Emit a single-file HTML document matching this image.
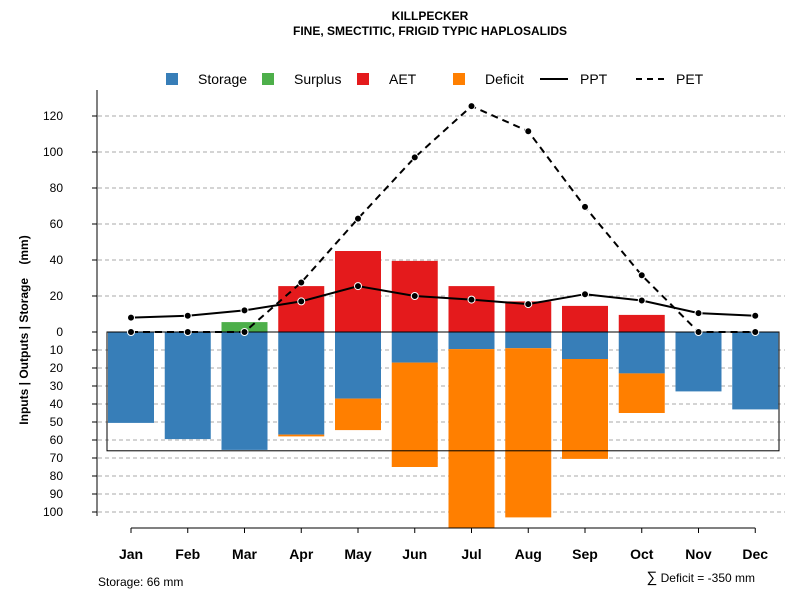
<!DOCTYPE html>
<html><head><meta charset="utf-8"><style>
body{margin:0;background:#fff}
svg text{font-family:"Liberation Sans",Arial,sans-serif}
</style></head><body>
<svg id="chart" width="800" height="600" xmlns="http://www.w3.org/2000/svg">
<text x="430" y="20" text-anchor="middle" font-size="12" font-weight="bold">KILLPECKER</text>
<text x="430" y="35" text-anchor="middle" font-size="12" font-weight="bold">FINE, SMECTITIC, FRIGID TYPIC HAPLOSALIDS</text>
<g id="grid"></g>
<g id="bars"></g>
<g id="lines"></g>
<g id="axes"></g>
<g>
<rect x="166" y="73" width="12" height="12" fill="#377eb8"/>
<text x="198" y="84" font-size="14">Storage</text>
<rect x="262" y="73" width="12" height="12" fill="#4daf4a"/>
<text x="294" y="84" font-size="14">Surplus</text>
<rect x="357" y="73" width="12" height="12" fill="#e41a1c"/>
<text x="389" y="84" font-size="14">AET</text>
<rect x="453" y="73" width="12" height="12" fill="#ff7f00"/>
<text x="485" y="84" font-size="14">Deficit</text>
<line x1="540" y1="79" x2="568" y2="79" stroke="#000" stroke-width="2"/>
<text x="580" y="84" font-size="14">PPT</text>
<line x1="636" y1="79" x2="664" y2="79" stroke="#000" stroke-width="2" stroke-dasharray="6,5"/>
<text x="676" y="84" font-size="14">PET</text>
</g>
<text transform="translate(28,330) rotate(-90)" text-anchor="middle" font-size="12" font-weight="bold">Inputs | Outputs | Storage&#160;&#160;&#160;&#160;(mm)</text>
<text x="98" y="586" font-size="12">Storage: 66 mm</text>
<text x="755" y="582" text-anchor="end" font-size="12"><tspan font-size="15">∑</tspan> Deficit = -350 mm</text>
</svg>
<script>
const months=["Jan","Feb","Mar","Apr","May","Jun","Jul","Aug","Sep","Oct","Nov","Dec"];
const storage=[50.5,59.5,65.5,57,37,17,9.5,9,15,23,33,43];
const deficit=[0,0,0,1,17.5,58,99.5,94,55.5,22,0,0];
const surplus=[0,0,5.5,0,0,0,0,0,0,0,0,0];
const aet=[0,0,0,25.5,45,39.5,25.5,17,14.5,9.5,0,0];
const ppt=[8,9,12,17,25.5,20,18,15.5,21,17.5,10.5,9];
const pet=[0,0,0,27.5,63,97,125.5,111.5,69.5,31.5,0,0];
const upTicks=[0,20,40,60,80,100,120];
const downTicks=[10,20,30,40,50,60,70,80,90,100];
const capacity=66;
const NS="http://www.w3.org/2000/svg";
const y0=332,k=1.8;
const yUp=v=>y0-v*k, yDn=v=>y0+v*k;
const xc=i=>131+i*56.75, bw=46;
function mk(t,a,p){const e=document.createElementNS(NS,t);for(const n in a)e.setAttribute(n,a[n]);p.appendChild(e);return e;}
const grid=document.getElementById('grid'),bars=document.getElementById('bars'),lines=document.getElementById('lines'),axes=document.getElementById('axes');
upTicks.forEach(t=>{
 if(t>0){const g=mk('line',{x1:98,x2:785,y1:yUp(t),y2:yUp(t),stroke:'#aaa','stroke-dasharray':'4,3'},grid);
 
 }
 const tk=mk('line',{x1:92,x2:97,y1:yUp(t),y2:yUp(t),stroke:'#000'},axes);
 
 
 const tx=mk('text',{x:63,y:yUp(t)+4,'font-size':12,'text-anchor':'end'},axes);tx.textContent=t;
 
 
});
downTicks.forEach(t=>{
 const g=mk('line',{x1:98,x2:785,y1:yDn(t),y2:yDn(t),stroke:'#aaa','stroke-dasharray':'4,3'},grid);
 
 
 const tk=mk('line',{x1:92,x2:97,y1:yDn(t),y2:yDn(t),stroke:'#000'},axes);
 
 
 const tx=mk('text',{x:63,y:yDn(t)+4,'font-size':12,'text-anchor':'end'},axes);tx.textContent=t;
 
 
});
months.forEach((m,i)=>{
 const x=xc(i)-bw/2;
 const r1=mk('rect',{x:x,y:y0,width:bw,height:storage[i]*k,fill:'#377eb8'},bars);
 
 
 if(deficit[i]>0){const r=mk('rect',{x:x,y:yDn(storage[i]),width:bw,height:deficit[i]*k,fill:'#ff7f00'},bars);
 
 }
 if(aet[i]>0){const r=mk('rect',{x:x,y:yUp(aet[i]),width:bw,height:aet[i]*k,fill:'#e41a1c'},bars);
 
 }
 if(surplus[i]>0){const r=mk('rect',{x:x,y:yUp(surplus[i]+aet[i]),width:bw,height:surplus[i]*k,fill:'#4daf4a'},bars);
 
 }
 const tk=mk('line',{x1:xc(i),x2:xc(i),y1:528,y2:533,stroke:'#000'},axes);
 
 
 const tx=mk('text',{x:xc(i),y:559,'font-size':14,'font-weight':'bold','text-anchor':'middle'},axes);tx.textContent=m;
 
 
});
const cap=mk('rect',{x:107,y:y0,width:672,height:capacity*k,fill:'none',stroke:'#000'},bars);


const zl=mk('line',{x1:107,x2:779,y1:y0,y2:y0,stroke:'#000'},bars);


const ya=mk('line',{x1:97,x2:97,y1:yUp(120)-26,y2:yDn(100)+4,stroke:'#000'},axes);


const xa=mk('line',{x1:xc(0),x2:xc(11),y1:528,y2:528,stroke:'#000'},axes);


function series(vals,name,dash){
 const p=mk('polyline',{points:vals.map((v,i)=>xc(i)+','+yUp(v)).join(' '),fill:'none',stroke:'#000','stroke-width':2,'stroke-dasharray':dash},lines);
 
 
 vals.forEach((v,i)=>{const c=mk('circle',{cx:xc(i),cy:yUp(v),r:3.5,fill:'#000',stroke:'#fff','stroke-width':1},lines);
 
 });
}
series(pet,'pet','7,5');
series(ppt,'ppt','none');
</script>
</body></html>
